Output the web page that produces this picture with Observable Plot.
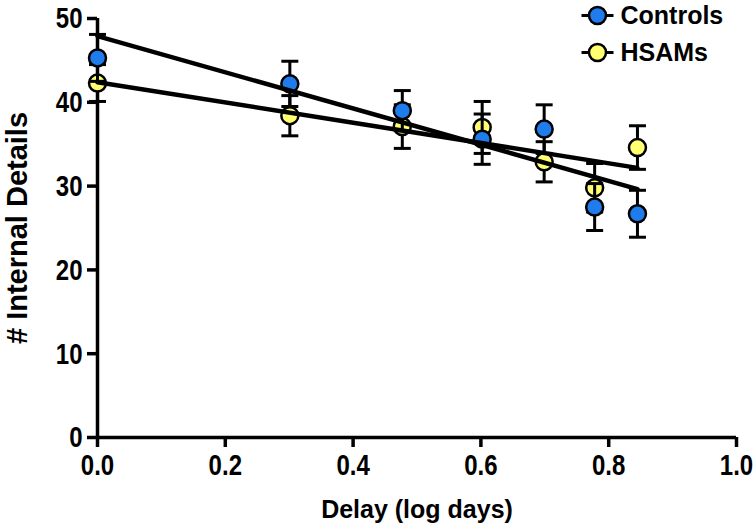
<!DOCTYPE html>
<html><head><meta charset="utf-8">
<script src="https://cdn.jsdelivr.net/npm/d3@7"></script>
<script src="https://cdn.jsdelivr.net/npm/@observablehq/plot@0.6"></script>
<style>
body{margin:0;background:#fff;}
</style></head><body><div id="chart"></div>
<script>
const delays = [0, 0.301, 0.477, 0.602, 0.699, 0.778, 0.845];
const controlsMean = [45.3, 42.2, 39.0, 35.6, 36.8, 27.5, 26.7];
const controlsSem = [2.8, 2.7, 2.4, 3.0, 2.9, 2.8, 2.8];
const hsamMean = [42.3, 38.4, 37.1, 37.0, 32.9, 29.8, 34.6];
const hsamSem = [2.2, 2.4, 2.6, 3.1, 2.4, 2.9, 2.6];
const fitIntercept = [47.9, 42.4];
const fitSlope = [-21.6, -12.1];
const seriesNames = ["Controls", "HSAMs"];
const seriesColors = ["#1f7cec", "#ffff70"];
const xTicks = [0, 0.2, 0.4, 0.6, 0.8, 1.0];
const yTicks = [0, 10, 20, 30, 40, 50];

const means = [controlsMean, hsamMean];
const sems = [controlsSem, hsamSem];
const rows = seriesNames.map((s, i) => delays.map((x, j) => ({
  series: s, x, y: means[i][j], lo: means[i][j] - sems[i][j], hi: means[i][j] + sems[i][j]
})));
const xMax = d3.max(delays);
const fitRows = seriesNames.flatMap((s, i) => [0, xMax].map(x => ({series: s, x, y: fitIntercept[i] + fitSlope[i] * x})));

const hline = {draw(ctx, size) { const r = Math.sqrt(size / Math.PI); ctx.moveTo(-r, 0); ctx.lineTo(r, 0); }};

function seriesMarks(i) {
  const data = rows[i];
  return [
    Plot.ruleX(data, {x: "x", y1: "lo", y2: "hi", stroke: "black", strokeWidth: 3}),
    Plot.dot(data, {x: "x", y: "lo", symbol: hline, r: 8.5, stroke: "black", strokeWidth: 3, fill: "none"}),
    Plot.dot(data, {x: "x", y: "hi", symbol: hline, r: 8.5, stroke: "black", strokeWidth: 3, fill: "none"}),
    Plot.dot(data, {x: "x", y: "y", r: 8.5, fill: seriesColors[i], stroke: "black", strokeWidth: 2.5})
  ];
}

const legendDy = [-3, 34];
const legendMarks = seriesNames.flatMap((s, i) => [
  Plot.dot([s], {frameAnchor: "top-right", dx: -139, dy: legendDy[i], symbol: hline, r: 16, stroke: "black", strokeWidth: 3, fill: "none"}),
  Plot.dot([s], {frameAnchor: "top-right", dx: -139, dy: legendDy[i], r: 8.5, fill: seriesColors[i], stroke: "black", strokeWidth: 2.5}),
  Plot.text([s], {ariaLabel: "legend-text", frameAnchor: "top-right", dx: -116, dy: legendDy[i], textAnchor: "start", lineAnchor: "middle", fontSize: 25, fontWeight: "bold", fill: "black"})
]);

const chart = Plot.plot({
  width: 754, height: 531,
  marginTop: 18, marginRight: 18, marginBottom: 94, marginLeft: 97,
  style: {fontFamily: "'Liberation Sans', Arial, sans-serif", fontWeight: "bold", fontSize: "24px", color: "black", background: "white"},
  x: {domain: [0, 1]},
  y: {domain: [0, 50]},
  marks: [
    Plot.ruleX([0], {y1: 0, y2: 50, stroke: "black", strokeWidth: 3.5}),
    Plot.ruleY([0], {x1: 0, x2: 1, stroke: "black", strokeWidth: 3.5}),
    Plot.axisX({ticks: xTicks, tickFormat: d3.format(".1f"), tickSize: 10, tickPadding: 8, strokeWidth: 3.5, fontSize: 24, label: null}),
    Plot.axisY({ticks: yTicks, tickSize: 10, tickPadding: 5, strokeWidth: 3.5, fontSize: 24, label: null}),
    Plot.text(["Delay (log days)"], {ariaLabel: "x-title", frameAnchor: "bottom", dy: 72, lineAnchor: "middle", fontSize: 25, fontWeight: "bold", fill: "black"}),
    Plot.text(["# Internal Details"], {ariaLabel: "y-title", frameAnchor: "left", dx: -80, rotate: -90, textAnchor: "middle", lineAnchor: "middle", fontSize: 29, fontWeight: "bold", fill: "black"}),
    ...seriesMarks(1),
    ...seriesMarks(0),
    Plot.line(fitRows, {x: "x", y: "y", z: "series", stroke: "black", strokeWidth: 4.5}),
    ...legendMarks
  ]
});
document.getElementById("chart").appendChild(chart);

// stretch glyphs around their own centre, to match the reference's tall lettering
function stretch(selector, sx, sy) {
  chart.querySelectorAll(selector).forEach(el => {
    const t = el.getAttribute("transform") || "";
    const b = el.getBBox();
    const cx = b.x + b.width / 2, cy = b.y + b.height / 2;
    el.setAttribute("transform", `${t} translate(${cx},${cy}) scale(${sx},${sy}) translate(${-cx},${-cy})`);
  });
}
stretch('g[aria-label="x-axis tick label"] text', 1, 1.25);
stretch('g[aria-label="y-axis tick label"] text', 1, 1.25);
stretch('g[aria-label="x-title"] text', 1, 1.2);
stretch('g[aria-label="y-title"] text', 1.12, 1);
stretch('g[aria-label="legend-text"] text', 1, 1.12);
</script></body></html>
